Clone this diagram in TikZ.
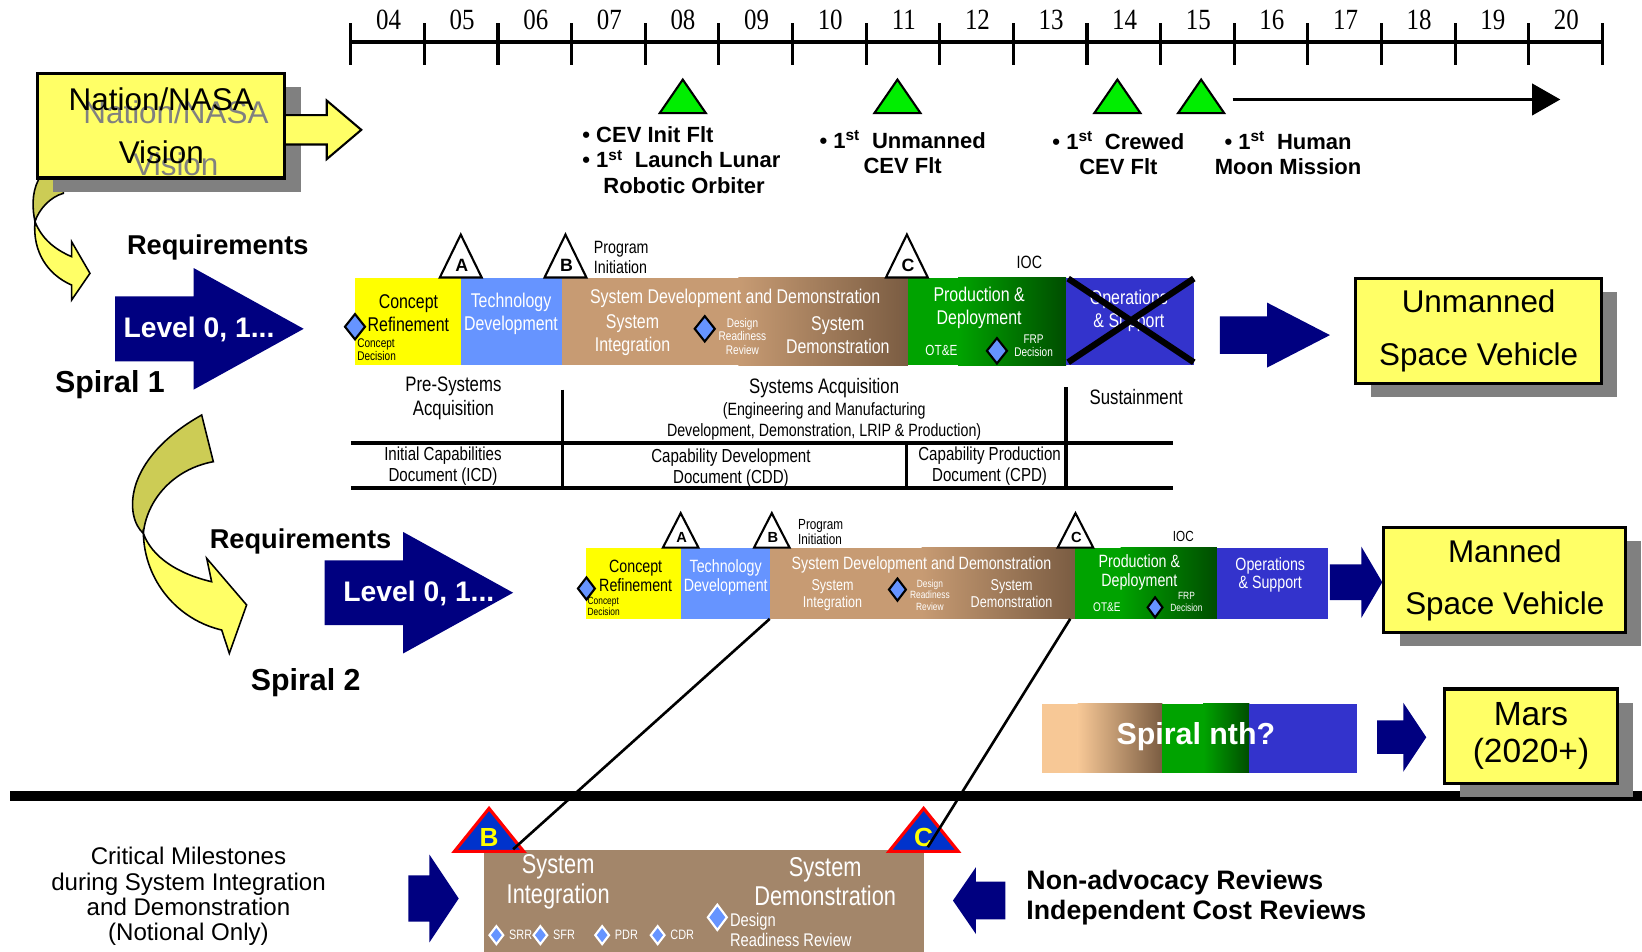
\documentclass[tikz,border=0pt]{standalone}
\usepackage{fontspec}
\setmainfont{Liberation Sans}
\newfontfamily\narrowfont[FakeStretch=0.8]{Liberation Sans}
\newfontfamily\yearfont[FakeStretch=0.85]{Liberation Serif}
\usetikzlibrary{positioning,shapes.geometric,shadows,arrows.meta}

\definecolor{visionyellow}{HTML}{FFFF66}
\definecolor{levelnavy}{HTML}{000080}
\definecolor{conceptyellow}{HTML}{FFFF00}
\definecolor{techblue}{HTML}{6694FF}
\definecolor{sddtan}{HTML}{C79B73}
\definecolor{sdddark}{HTML}{7A5C42}
\definecolor{prodgreen}{HTML}{00A300}
\definecolor{proddark}{HTML}{004D00}
\definecolor{opsblue}{HTML}{3333CC}
\definecolor{curlolive}{HTML}{CCCC55}
\definecolor{shadowgray}{HTML}{808080}
\definecolor{flightgreen}{HTML}{00EE00}
\definecolor{reviewbrown}{HTML}{A3866A}
\definecolor{nthpeach}{HTML}{F7C896}
\definecolor{gateblue}{HTML}{0033CC}
\definecolor{gatered}{HTML}{FF0000}

\newcommand{\fsz}[2]{\fontsize{#1}{#2}\selectfont}
% block arrow: style, tail x, neck x, tip x, centre y, shaft half, head half
\newcommand{\blockarrow}[7]{\path[#1] (#2,#5-#6) -- (#3,#5-#6) -- (#3,#5-#7) -- (#4,#5) -- (#3,#5+#7) -- (#3,#5+#6) -- (#2,#5+#6) -- cycle;}

\tikzset{
  visionbox/.style={draw, line width=3pt, fill=visionyellow, align=center, inner sep=0,
    font={\fsz{30}{50}},
    drop shadow={shadow xshift=15pt, shadow yshift=-13pt, fill=shadowgray, opacity=1}},
  flightlabel/.style={font={\bfseries\fsz{21}{24}}, inner sep=0},
  barwhite/.style={text=white, font={\narrowfont\fsz{19}{22}}, align=center, inner sep=0},
  barblack/.style={text=black, font={\narrowfont\fsz{19}{22}}, align=center, inner sep=0},
  tinytext/.style={font={\narrowfont\fsz{12}{13}}, align=center, inner sep=0},
  acqtext/.style={font={\narrowfont\fsz{20}{23}}, align=center, inner sep=0},
  doctext/.style={font={\narrowfont\fsz{18}{20}}, align=center, inner sep=0},
  bigbold/.style={font={\bfseries\fsz{26}{26}}, inner sep=0},
  bardiamond/.style={diamond, draw=black, line width=2pt, fill=techblue, inner sep=0,
    minimum width=20pt, minimum height=25pt},
  reviewdiamond/.style={diamond, draw=white, line width=2pt, fill=techblue, inner sep=0,
    minimum width=14pt, minimum height=18pt},
  gate/.style={fill=white, draw=black, line width=2pt},
  redgate/.style={fill=gateblue, draw=gatered, line width=3pt},
  curl/.style={draw=black, line width=1.5pt},
}

\begin{document}
\begin{tikzpicture}[x=1pt,y=-1pt]
  \useasboundingbox (0,0) rectangle (1568,909);

  % separator
  \draw[line width=10pt] (10,760) -- (1568,760);

  % timeline
  \draw[line width=4pt] (335,40) -- (1530,40);
  \foreach \i in {0,...,17}
    \draw[line width=3pt] ({335+70.3*\i},22) -- ({335+70.3*\i},62);
  \foreach \yr [count=\i from 0] in {04,05,06,07,08,09,10,11,12,13,14,15,16,17,18,19,20}
    \node[font={\yearfont\fsz{28}{28}}, inner sep=0] (yr\yr) at ({371+70.3*\i},19) {\yr};

  \foreach \x in {652,857,1067,1147}
    \filldraw[fill=flightgreen, line width=2pt] (\x-22,108) -- (\x,76) -- (\x+22,108) -- cycle;
  \coordinate (moonstart) at (1177,95);
  \coordinate (moonend) at (1490,95);
  \draw[line width=3pt, -{Triangle[length=27pt,width=30pt]}] (moonstart) -- (moonend);

  \node[flightlabel, align=left, anchor=north west] (flt08) at (556,121)
    {\textbullet\ CEV Init Flt\\\textbullet\ 1\textsuperscript{st}\ \ Launch Lunar\\\hspace*{20pt}Robotic Orbiter};
  \node[flightlabel, align=center] (flt11) at (862,145) {\textbullet\ 1\textsuperscript{st}\ \ Unmanned\\CEV Flt};
  \node[flightlabel, align=center] (flt14) at (1068,146) {\textbullet\ 1\textsuperscript{st}\ \ Crewed\\CEV Flt};
  \node[flightlabel, align=center] (flt15) at (1230,146) {\textbullet\ 1\textsuperscript{st}\ \ Human\\Moon Mission};

  % curl from vision to spiral 1
  \filldraw[curl, fill=curlolive] (36.6,165) -- (36.6,171.9) .. controls (30,185) and (31,200) .. (33.4,211.7)
    .. controls (37,200) and (48,188) .. (60.5,184.6) -- (60.5,165) -- cycle;
  \filldraw[curl, fill=visionyellow] (33.4,211.7) .. controls (31,240) and (45,262) .. (68.4,272.2)
    -- (68.4,286.5) -- (85.9,261) -- (68.4,230.8) -- (68.4,245.1)
    .. controls (52,238) and (40,228) .. (33.4,211.7) -- cycle;

  % vision box
  \node[visionbox, minimum width=236pt, minimum height=100pt] (vision) at (154,120) {};
  \node[text=shadowgray, font={\fsz{30}{50}}, align=center, inner sep=0] (visionshade) at (168,132) {Nation/NASA\\Vision};
  \node[font={\fsz{30}{50}}, align=center, inner sep=0] (visiontext) at (154,120) {Nation/NASA\\Vision};
  \blockarrow{fill=visionyellow, draw=black, line width=2pt}{272}{312}{345}{124}{14}{28}

  % spiral 1
  \node[bigbold] (req1) at (208,236) {Requirements};
  \blockarrow{fill=levelnavy}{110}{185}{290}{314}{31}{58}
  \node[bigbold, text=white, font={\bfseries\fsz{27}{27}}] (lvl1) at (190,315) {Level 0, 1...};
  \node[bigbold, font={\bfseries\fsz{29}{29}}] (spiral1) at (105,367) {Spiral 1};

  \fill[conceptyellow] (339,265) rectangle (440,349);
  \fill[techblue] (440,265) rectangle (537,349);
  \fill[sddtan] (537,265) rectangle (706,349);
  \shade[left color=sddtan, right color=sdddark] (705,265) rectangle (867,349);
  \fill[prodgreen] (867,265) rectangle (916,349);
  \shade[left color=prodgreen, right color=proddark] (915,265) rectangle (1018,349);
  \fill[opsblue] (1018,265) rectangle (1140,349);

  \filldraw[gate] (420,265) -- (440,224) -- (460,265) -- cycle;
  \filldraw[gate] (520,265) -- (540,224) -- (560,265) -- cycle;
  \filldraw[gate] (846,265) -- (866,224) -- (886,265) -- cycle;
  \node[font={\bfseries\fsz{17}{17}}, inner sep=0] (gateA1) at (441,253) {A};
  \node[font={\bfseries\fsz{17}{17}}, inner sep=0] (gateB1) at (541,253) {B};
  \node[font={\bfseries\fsz{17}{17}}, inner sep=0] (gateC1) at (867,253) {C};
  \node[font={\narrowfont\fsz{17}{19}}, align=left, inner sep=0, anchor=west] (pi1) at (567,246) {Program\\Initiation};
  \node[font={\narrowfont\fsz{17}{17}}, inner sep=0] (ioc1) at (983,251) {IOC};

  \node[barblack] (cr1) at (390,299) {Concept\\Refinement};
  \node[bardiamond] (cd1) at (339,312) {};
  \node[tinytext, align=left, anchor=north west] (cdtext1) at (341,323) {Concept\\Decision};
  \node[barwhite] (td1) at (488,300) {Technology\\Development};
  \node[barwhite] (sdd1) at (702,285) {System Development and Demonstration};
  \node[barwhite] (si1) at (604,320) {System\\Integration};
  \node[bardiamond] (drr1) at (673,314) {};
  \node[tinytext, text=white] (drrtext1) at (709,321) {Design\\Readiness\\Review};
  \node[barwhite] (sdemo1) at (800,320) {System\\Demonstration};
  \node[barwhite] (pd1) at (935,294) {Production \&\\Deployment};
  \node[barwhite, font={\narrowfont\fsz{14}{14}}] (ote1) at (899,335) {OT\&E};
  \node[bardiamond] (frp1) at (952,335) {};
  \node[tinytext, text=white] (frptext1) at (987,330) {FRP\\Decision};
  \node[barwhite] (os1) at (1078,297) {Operations\\\& Support};
  \draw[line width=6pt] (1020,266) -- (1140,346);
  \draw[line width=6pt] (1140,266) -- (1020,346);

  \node[acqtext] (presys) at (433,380) {Pre-Systems\\Acquisition};
  \node[acqtext] (sysacq) at (787,371) {Systems Acquisition};
  \node[font={\narrowfont\fsz{17}{20}}, align=center, inner sep=0] (emd) at (787,402)
    {(Engineering and Manufacturing\\Development, Demonstration, LRIP \& Production)};
  \node[acqtext] (sustain) at (1085,379) {Sustainment};
  \draw[line width=3pt] (537,372) -- (537,466);
  \draw[line width=3pt] (1018,370) -- (1018,466);
  \draw[line width=3pt] (866,423) -- (866,466);
  \draw[line width=4pt] (335,423) -- (1120,423);
  \draw[line width=4pt] (335,466) -- (1120,466);
  \node[doctext] (icd) at (423,445) {Initial Capabilities\\Document (ICD)};
  \node[doctext] (cdd) at (698,447) {Capability Development\\Document (CDD)};
  \node[doctext] (cpd) at (945,445) {Capability Production\\Document (CPD)};

  \blockarrow{fill=levelnavy}{1165}{1210}{1270}{320}{18}{31}
  \node[visionbox, minimum width=235pt, minimum height=100pt] (unmanned) at (1412,316) {Unmanned\\Space Vehicle};

  % curl from spiral 1 to spiral 2
  \filldraw[curl, fill=curlolive] (192.6,396.3) -- (203.7,440.9) .. controls (165,448) and (140,478) .. (136.9,509.3)
    .. controls (120,495) and (115,440) .. (192.6,396.3) -- cycle;
  \filldraw[curl, fill=visionyellow] (136.9,509.3) .. controls (138,555) and (170,592) .. (211.7,601.6)
    -- (219,623.9) -- (235.5,577.7) -- (197.4,533.2) -- (202.1,555.5)
    .. controls (170,548) and (145,532) .. (136.9,509.3) -- cycle;

  % spiral 2
  \node[bigbold] (req2) at (287,517) {Requirements};
  \blockarrow{fill=levelnavy}{310}{385}{490}{566}{31}{58}
  \node[bigbold, text=white, font={\bfseries\fsz{27}{27}}] (lvl2) at (400,567) {Level 0, 1...};
  \node[bigbold, font={\bfseries\fsz{29}{29}}] (spiral2) at (292,652) {Spiral 2};

  \fill[conceptyellow] (560,523) rectangle (650,591);
  \fill[techblue] (650,523) rectangle (735,591);
  \fill[sddtan] (735,523) rectangle (881,591);
  \shade[left color=sddtan, right color=sdddark] (880,523) rectangle (1027,591);
  \fill[prodgreen] (1027,523) rectangle (1071,591);
  \shade[left color=prodgreen, right color=proddark] (1070,523) rectangle (1162,591);
  \fill[opsblue] (1162,523) rectangle (1268,591);

  \filldraw[gate] (633,523) -- (650,490) -- (667,523) -- cycle;
  \filldraw[gate] (720,523) -- (737,490) -- (754,523) -- cycle;
  \filldraw[gate] (1010,523) -- (1027,490) -- (1044,523) -- cycle;
  \node[font={\bfseries\fsz{14}{14}}, inner sep=0] (gateA2) at (651,513) {A};
  \node[font={\bfseries\fsz{14}{14}}, inner sep=0] (gateB2) at (738,513) {B};
  \node[font={\bfseries\fsz{14}{14}}, inner sep=0] (gateC2) at (1028,513) {C};
  \node[font={\narrowfont\fsz{14}{15}}, align=left, inner sep=0, anchor=west] (pi2) at (762,508) {Program\\Initiation};
  \node[font={\narrowfont\fsz{14}{14}}, inner sep=0] (ioc2) at (1130,512) {IOC};

  \node[barblack, font={\narrowfont\fsz{17}{18}}] (cr2) at (607,550) {Concept\\Refinement};
  \node[bardiamond, minimum width=17pt, minimum height=22pt] (cd2) at (560,562) {};
  \node[tinytext, font={\narrowfont\fsz{10}{11}}, align=left, anchor=north west] (cdtext2) at (561,570) {Concept\\Decision};
  \node[barwhite, font={\narrowfont\fsz{17}{18}}] (td2) at (693,551) {Technology\\Development};
  \node[barwhite, font={\narrowfont\fsz{17}{18}}] (sdd2) at (880,539) {System Development and Demonstration};
  \node[barwhite, font={\narrowfont\fsz{15}{16}}] (si2) at (795,568) {System\\Integration};
  \node[bardiamond, minimum width=17pt, minimum height=22pt] (drr2) at (857,563) {};
  \node[tinytext, text=white, font={\narrowfont\fsz{10}{11}}] (drrtext2) at (888,568) {Design\\Readiness\\Review};
  \node[barwhite, font={\narrowfont\fsz{15}{16}}] (sdemo2) at (966,567) {System\\Demonstration};
  \node[barwhite, font={\narrowfont\fsz{17}{18}}] (pd2) at (1088,547) {Production \&\\Deployment};
  \node[barwhite, font={\narrowfont\fsz{12}{12}}] (ote2) at (1057,580) {OT\&E};
  \node[bardiamond, minimum width=15pt, minimum height=20pt] (frp2) at (1103,580) {};
  \node[tinytext, text=white, font={\narrowfont\fsz{10}{11}}] (frptext2) at (1133,575) {FRP\\Decision};
  \node[barwhite, font={\narrowfont\fsz{17}{18}}] (os2) at (1213,549) {Operations\\\& Support};

  \blockarrow{fill=levelnavy}{1270}{1300}{1320}{556}{17}{34}
  \node[visionbox, minimum width=231pt, minimum height=100pt] (manned) at (1437,554) {Manned\\Space Vehicle};

  % spiral nth
  \fill[nthpeach] (995,672) rectangle (1030,738);
  \shade[left color=nthpeach, right color=sdddark] (1029,672) rectangle (1110,738);
  \fill[prodgreen] (1110,672) rectangle (1150,738);
  \shade[left color=prodgreen, right color=proddark] (1149,672) rectangle (1193,738);
  \fill[opsblue] (1193,672) rectangle (1296,738);
  \node[text=white, font={\bfseries\fsz{29}{29}}, inner sep=0] (nth) at (1142,703) {Spiral nth?};
  \blockarrow{fill=levelnavy}{1315}{1340}{1362}{704}{16}{33}
  \node[visionbox, minimum width=165pt, minimum height=90pt, font={\fsz{32}{35}}] (mars) at (1462,703) {Mars\\(2020+)};

  % critical milestones
  \fill[reviewbrown] (462,812) rectangle (882,909);
  \filldraw[redgate] (434,813) -- (467,772) -- (500,813) -- cycle;
  \filldraw[redgate] (849,813) -- (882,772) -- (915,813) -- cycle;
  \node[text=conceptyellow, font={\bfseries\fsz{25}{25}}, inner sep=0] (gateB3) at (467,800) {B};
  \node[text=conceptyellow, font={\bfseries\fsz{25}{25}}, inner sep=0] (gateC3) at (882,800) {C};
  \node[barwhite, font={\narrowfont\fsz{26}{28}}] (si3) at (533,842) {System\\Integration};
  \node[barwhite, font={\narrowfont\fsz{26}{28}}] (sdemo3) at (788,842) {System\\Demonstration};
  \foreach \x/\rev in {474/SRR,516/SFR,575/PDR,628/CDR} {
    \node[reviewdiamond] (d\rev) at (\x,893) {};
    \node[barwhite, font={\narrowfont\fsz{13}{13}}, anchor=west] (t\rev) at (\x+12,893) {\rev};
  }
  \node[reviewdiamond, minimum width=19pt, minimum height=25pt] (drr3) at (685,876) {};
  \node[barwhite, font={\narrowfont\fsz{17.5}{19}}, align=left, anchor=north west] (drrtext3) at (697,872) {Design\\Readiness Review};

  \blockarrow{fill=levelnavy}{390}{410}{438}{858}{22}{42}
  \blockarrow{fill=levelnavy}{960}{932}{910}{860}{18}{32}
  \node[font={\fsz{23}{24}}, align=center, inner sep=0] (critical) at (180,856)
    {Critical Milestones\\during System Integration\\and Demonstration\\(Notional Only)};
  \node[font={\bfseries\fsz{25.5}{28}}, align=left, inner sep=0, anchor=west] (reviews) at (980,857)
    {Non-advocacy Reviews\\Independent Cost Reviews};

  % links from spiral 2 to milestone detail
  \coordinate (s2tdend) at (735,591);
  \coordinate (gateBfoot) at (490,811);
  \coordinate (s2pdstart) at (1022,591);
  \coordinate (gateCfoot) at (886,809);
  \draw[line width=2.5pt] (s2tdend) -- (gateBfoot);
  \draw[line width=2.5pt] (s2pdstart) -- (gateCfoot);
\end{tikzpicture}
\end{document}
